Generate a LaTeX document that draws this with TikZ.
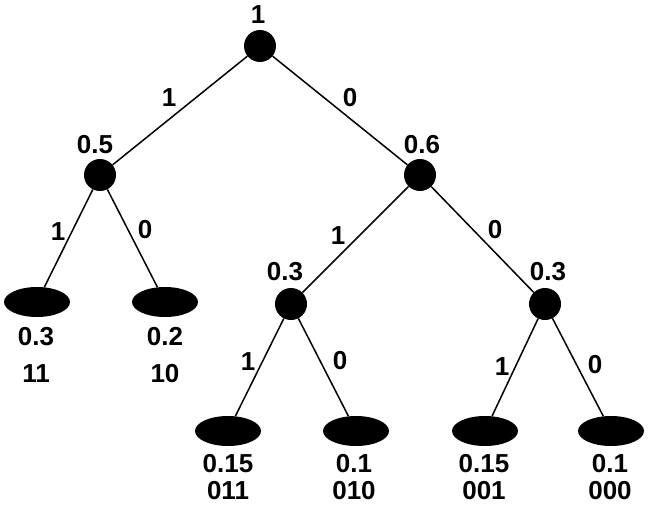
\documentclass[tikz,border=0pt]{standalone}
\usepackage{fontspec}
\setmainfont{Liberation Sans}
\usetikzlibrary{shapes.geometric}
\begin{document}
\begin{tikzpicture}[x=1pt,y=-1pt,
  inner/.style={circle,fill=black,minimum size=32pt,inner sep=0pt},
  leaf/.style={ellipse,fill=black,minimum width=66pt,minimum height=30pt,inner sep=0pt},
  lbl/.style={font=\fontsize{26}{26}\selectfont\bfseries,inner sep=0pt},
  edge/.style={line width=1.5pt}]
\useasboundingbox (0,0) rectangle (652,508);
% internal nodes
\node[inner] (r) at (260,46) {};
\node[inner] (a) at (100,175) {};
\node[inner] (b) at (420,175) {};
\node[inner] (c) at (291,304) {};
\node[inner] (d) at (545,304) {};
% leaves
\node[leaf] (l11) at (37,302) {};
\node[leaf] (l10) at (165,302) {};
\node[leaf] (l011) at (228,431) {};
\node[leaf] (l010) at (356,431) {};
\node[leaf] (l001) at (485,431) {};
\node[leaf] (l000) at (611,431) {};
% edges
\draw[edge] (r) -- (a);
\draw[edge] (r) -- (b);
\draw[edge] (a) -- (l11);
\draw[edge] (a) -- (l10);
\draw[edge] (b) -- (c);
\draw[edge] (b) -- (d);
\draw[edge] (c) -- (l011);
\draw[edge] (c) -- (l010);
\draw[edge] (d) -- (l001);
\draw[edge] (d) -- (l000);
% node labels
\node[lbl] (tr) at (258,15) {1};
\node[lbl] (ta) at (95,145) {0.5};
\node[lbl] (tb) at (422,145) {0.6};
\node[lbl] (tc) at (285,272) {0.3};
\node[lbl] (td) at (548,272) {0.3};
% leaf labels
\node[lbl] (p11) at (36,337) {0.3};
\node[lbl] (c11) at (36,374) {11};
\node[lbl] (p10) at (165,337) {0.2};
\node[lbl] (c10) at (165,374) {10};
\node[lbl] (p011) at (228,464) {0.15};
\node[lbl] (c011) at (228,491) {011};
\node[lbl] (p010) at (354,464) {0.1};
\node[lbl] (c010) at (354,491) {010};
\node[lbl] (p001) at (484,464) {0.15};
\node[lbl] (c001) at (484,491) {001};
\node[lbl] (p000) at (610,464) {0.1};
\node[lbl] (c000) at (610,491) {000};
% edge labels
\node[lbl] (e1) at (169,98) {1};
\node[lbl] (e2) at (350,98) {0};
\node[lbl] (e3) at (58,232) {1};
\node[lbl] (e4) at (145,230) {0};
\node[lbl] (e5) at (338,236) {1};
\node[lbl] (e6) at (495,230) {0};
\node[lbl] (e7) at (248,362) {1};
\node[lbl] (e8) at (340,361) {0};
\node[lbl] (e9) at (502,367) {1};
\node[lbl] (e10) at (595,365) {0};
\end{tikzpicture}
\end{document}
